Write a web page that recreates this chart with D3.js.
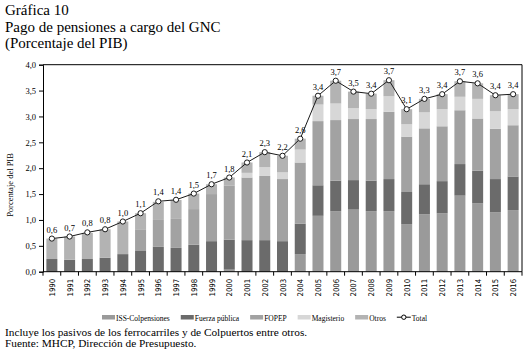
<!DOCTYPE html>
<html><head><meta charset="utf-8">
<script src="https://cdn.jsdelivr.net/npm/d3@7"></script>
<style>body{margin:0;background:#fff}svg{display:block}</style>
</head><body>
<script>
const years = ["1990","1991","1992","1993","1994","1995","1996","1997","1998","1999","2000","2001","2002","2003","2004","2005","2006","2007","2008","2009","2010","2011","2012","2013","2014","2015","2016"];
const iss = [0,0,0,0,0,0,0,0,0,0,0.04,0,0,0,0.34,1.08,1.17,1.20,1.17,1.17,0.92,1.11,1.13,1.47,1.32,1.15,1.19];
const fuerza = [0.245,0.23,0.245,0.27,0.34,0.40,0.48,0.46,0.52,0.59,0.58,0.61,0.61,0.59,0.59,0.59,0.59,0.57,0.59,0.62,0.62,0.58,0.62,0.61,0.63,0.64,0.65];
const fopep = [0,0,0,0,0,0.42,0.52,0.56,0.69,0.91,1.04,1.21,1.24,1.20,1.18,1.24,1.17,1.18,1.19,1.30,1.07,1.08,1.06,1.04,1.01,0.97,0.99];
const magisterio = [0,0,0,0,0,0,0,0,0,0,0,0.09,0.17,0.13,0.25,0.32,0.32,0.21,0.19,0.30,0.24,0.31,0.33,0.26,0.38,0.34,0.31];
const otros = [0.395,0.45,0.505,0.55,0.63,0.31,0.35,0.365,0.30,0.19,0.16,0.20,0.29,0.32,0.21,0.17,0.44,0.32,0.30,0.31,0.29,0.26,0.29,0.30,0.30,0.31,0.29];
const total = [0.64,0.68,0.76,0.82,0.97,1.13,1.36,1.39,1.51,1.69,1.82,2.11,2.31,2.24,2.57,3.40,3.69,3.48,3.44,3.70,3.14,3.34,3.43,3.68,3.64,3.41,3.43];
const seriesNames = ["ISS-Colpensiones","Fuerza pública","FOPEP","Magisterio","Otros"];
const seriesColors = ["#9a9a9a","#6b6b6b","#a2a2a2","#d7d7d7","#b3b3b3"];
const yTicks = [0,0.5,1,1.5,2,2.5,3,3.5,4];

const W=528,H=357;
const svg=d3.select("body").append("svg").attr("width",W).attr("height",H);
const serif="'Liberation Serif','DejaVu Serif',serif";
const m={l:43,r:522,t:64.7,b:271.7};

// Titles
const titles=["Gráfica 10","Pago de pensiones a cargo del GNC","(Porcentaje del PIB)"];
svg.selectAll("text.title").data(titles).join("text").attr("class","title")
  .attr("x",5).attr("y",(d,i)=>15+i*16.5).attr("font-family",serif).attr("font-size",15).attr("fill","#000").text(d=>d);

const x=d3.scaleBand().domain(years).range([m.l,m.r]).paddingInner(0.38).paddingOuter(0.19);
const xb=d3.scaleBand().domain(years).range([m.l,m.r]);
const y=d3.scaleLinear().domain([0,4]).range([m.b,m.t]);

const rows=years.map((yr,i)=>({year:yr,s0:iss[i],s1:fuerza[i],s2:fopep[i],s3:magisterio[i],s4:otros[i]}));
const stack=d3.stack().keys(["s0","s1","s2","s3","s4"])(rows);
svg.append("g").selectAll("g").data(stack).join("g").attr("fill",(d,i)=>seriesColors[i])
  .selectAll("rect").data(d=>d).join("rect")
  .attr("x",d=>x(d.data.year)).attr("width",x.bandwidth())
  .attr("y",d=>y(d[1])).attr("height",d=>Math.max(0,y(d[0])-y(d[1])));

// frame top/right
svg.append("path").attr("d",`M${m.l},${m.t}H${m.r}V${m.b}`).attr("fill","none").attr("stroke","#000").attr("stroke-width",1);

// y axis
const ya=svg.append("g").attr("transform",`translate(${m.l},0)`)
  .call(d3.axisLeft(y).tickValues(yTicks).tickSize(4).tickFormat(d=>d3.format(".1f")(d).replace(".",",")));
ya.attr("font-family",serif);
ya.select(".domain").attr("stroke","#000");
ya.selectAll("text").attr("font-family",serif).attr("font-size",8.5).attr("fill","#000");
ya.selectAll("line").attr("stroke","#000");

// x axis
const xa=svg.append("g").attr("transform",`translate(0,${m.b})`);
xa.append("line").attr("x1",m.l).attr("x2",m.r).attr("stroke","#000");
xa.selectAll("line.tk").data(years.concat(["end"])).join("line").attr("class","tk")
  .attr("x1",(d,i)=>m.l+i*xb.step()).attr("x2",(d,i)=>m.l+i*xb.step()).attr("y1",0).attr("y2",4).attr("stroke","#000");
xa.selectAll("text").data(years).join("text")
  .attr("transform",d=>`translate(${xb(d)+xb.bandwidth()/2+3},7) rotate(-90)`)
  .attr("text-anchor","end").attr("font-family","'DejaVu Sans Condensed','Liberation Sans Narrow',sans-serif").attr("font-size",7.8).attr("fill","#000").text(d=>d);

// y title
svg.append("text").attr("transform",`translate(13,185) rotate(-90)`).attr("text-anchor","middle")
  .attr("font-family",serif).attr("font-size",8.5).attr("fill","#000").text("Porcentaje del PIB");

// total line
const cx=(d,i)=>xb(years[i])+xb.bandwidth()/2;
svg.append("path").datum(total).attr("fill","none").attr("stroke","#1a1a1a").attr("stroke-width",1)
  .attr("d",d3.line().x(cx).y(d=>y(d)));
svg.append("g").selectAll("circle").data(total).join("circle")
  .attr("cx",cx).attr("cy",d=>y(d)).attr("r",2.6).attr("fill","#fff").attr("stroke","#1a1a1a").attr("stroke-width",1);
svg.append("g").selectAll("text").data(total).join("text")
  .attr("x",cx).attr("y",d=>y(d)-6).attr("text-anchor","middle")
  .attr("font-family",serif).attr("font-size",8.5).attr("fill","#000")
  .text(d=>d3.format(".1f")(d).replace(".",","));

// legend
const lg=svg.append("g").attr("transform","translate(102,319)");
let lx=0;
seriesNames.forEach((n,i)=>{
  lg.append("rect").attr("x",lx).attr("y",-4).attr("width",13).attr("height",4.5).attr("fill",seriesColors[i]);
  const t=lg.append("text").attr("x",lx+14).attr("y",1.5).attr("font-family",serif).attr("font-size",7.5).attr("fill","#000").text(n);
  lx+=14+t.node().getComputedTextLength()+11;
});
lg.append("line").attr("x1",lx).attr("x2",lx+14).attr("y1",-1.8).attr("y2",-1.8).attr("stroke","#000");
lg.append("circle").attr("cx",lx+7).attr("cy",-1.8).attr("r",2.2).attr("fill","#fff").attr("stroke","#000");
lg.append("text").attr("x",lx+15).attr("y",1.5).attr("font-family",serif).attr("font-size",7.5).attr("fill","#000").text("Total");

// footnotes
const notes=["Incluye los pasivos de los ferrocarriles y de Colpuertos entre otros.","Fuente: MHCP, Dirección de Presupuesto."];
svg.selectAll("text.note").data(notes).join("text").attr("class","note")
  .attr("x",5).attr("y",(d,i)=>336+i*10.5).attr("font-family",serif).attr("font-size",11.3).attr("fill","#000").text(d=>d);
</script>
</body></html>
